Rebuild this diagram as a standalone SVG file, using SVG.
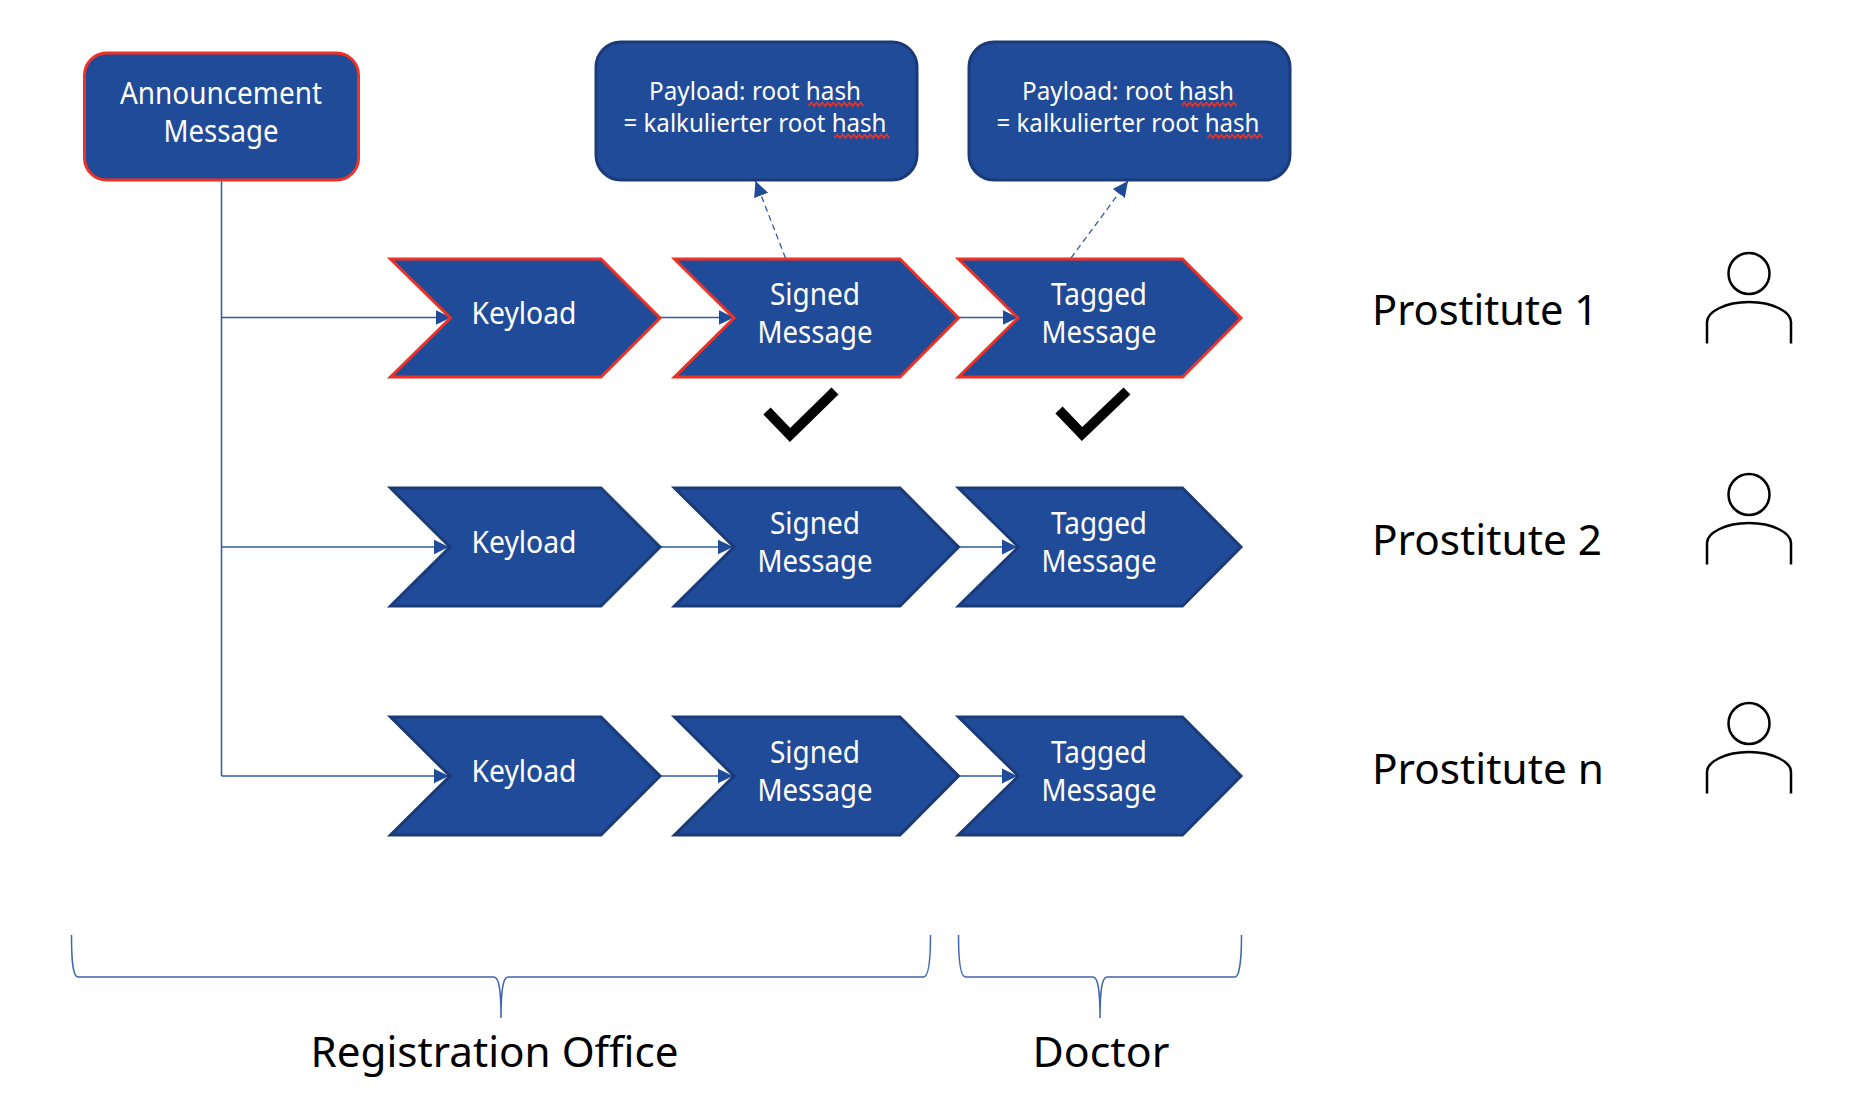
<svg xmlns="http://www.w3.org/2000/svg" width="1870" height="1114" viewBox="0 0 1870 1114">
<style>
text{font-family:"Noto Sans","Open Sans","Liberation Sans",sans-serif}
.w{fill:#fff;text-anchor:middle}
.n{font-size:30px}
.p{font-size:25px}
.k{fill:#000;font-size:42.500px}
.box{fill:#1f4b99;stroke:#1a3a78;stroke-width:3}
.hot{stroke:#ee3124}
.con{fill:none;stroke:#2f5aa8;stroke-width:1.5}
.dash{fill:none;stroke:#2f5aa8;stroke-width:1.3;stroke-dasharray:6 4}
.brace{fill:none;stroke:#3f66ae;stroke-width:1.500}
.sq{fill:none;stroke:#e0352b;stroke-width:1.800}
.chk{fill:none;stroke:#000;stroke-width:10}
.per{fill:none;stroke:#000;stroke-width:2.500}
</style>
<defs>
<marker id="a" markerUnits="userSpaceOnUse" markerWidth="16" markerHeight="16" refX="15.500" refY="8" orient="auto"><path d="M0 0.500L15.500 8L0 15.500Z" fill="#1f4b99"/></marker>
<path id="sq" d="M0 0l2.750-3.500l2.750 3.500l2.750-3.500l2.750 3.500l2.750-3.500l2.750 3.500l2.750-3.500l2.750 3.500l2.750-3.500l2.750 3.500l2.750-3.500l2.750 3.500l2.750-3.500l2.750 3.500l2.750-3.500l2.750 3.500l2.750-3.500l2.750 3.500l2.750-3.500l2.750 3.500"/>
</defs>
<rect width="1870" height="1114" fill="#fff"/>
<g id="connectors">
<path class="con" d="M221.500 180V776"/>
<path class="con" marker-end="url(#a)" d="M221.500 317.500H451"/>
<path class="con" marker-end="url(#a)" d="M660 317.500H734"/>
<path class="con" marker-end="url(#a)" d="M958 317.500H1018"/>
<path class="con" marker-end="url(#a)" d="M221.500 547H449"/>
<path class="con" marker-end="url(#a)" d="M660 547H733"/>
<path class="con" marker-end="url(#a)" d="M958 547H1017.500"/>
<path class="con" marker-end="url(#a)" d="M221.500 776H449"/>
<path class="con" marker-end="url(#a)" d="M660 776H733"/>
<path class="con" marker-end="url(#a)" d="M958 776H1017.500"/>
<path class="dash" marker-end="url(#a)" d="M785.500 258L755.500 181"/>
<path class="dash" marker-end="url(#a)" d="M1071 258L1128 181"/>
</g>
<g id="announcement"><rect class="box hot" x="84.500" y="53" width="274" height="127" rx="22"/>
<text class="w n" x="221" y="104" textLength="202" lengthAdjust="spacingAndGlyphs">Announcement</text><text class="w n" x="221" y="142" textLength="115" lengthAdjust="spacingAndGlyphs">Message</text></g>
<g id="payload1"><rect class="box" x="596" y="42" width="321" height="138" rx="25"/>
<text class="w p" x="755" y="100" textLength="212" lengthAdjust="spacingAndGlyphs">Payload: root hash</text><text class="w p" x="755" y="132" textLength="263" lengthAdjust="spacingAndGlyphs">= kalkulierter root hash</text>
<use href="#sq" class="sq" x="808.500" y="106"/><use href="#sq" class="sq" x="834.500" y="138"/></g>
<g id="payload2"><rect class="box" x="969" y="42" width="321" height="138" rx="25"/>
<text class="w p" x="1128" y="100" textLength="212" lengthAdjust="spacingAndGlyphs">Payload: root hash</text><text class="w p" x="1128" y="132" textLength="263" lengthAdjust="spacingAndGlyphs">= kalkulierter root hash</text>
<use href="#sq" class="sq" x="1181.500" y="106"/><use href="#sq" class="sq" x="1207.500" y="138"/></g>

<g id="r1k"><path class="box hot" d="M390.500 259H601L660 318L601 377H390.500L450.500 318Z"/><text class="w n" x="524" y="323.500" textLength="105" lengthAdjust="spacingAndGlyphs">Keyload</text></g>
<g id="r1s"><path class="box hot" d="M674.500 259H900L958.500 318L900 377H674.500L734 318Z"/><text class="w n" x="815" y="305" textLength="90" lengthAdjust="spacingAndGlyphs">Signed</text><text class="w n" x="815" y="343" textLength="115" lengthAdjust="spacingAndGlyphs">Message</text></g>
<g id="r1t"><path class="box hot" d="M958.500 259H1182.500L1241 318L1182.500 377H958.500L1018 318Z"/><text class="w n" x="1099" y="305" textLength="96" lengthAdjust="spacingAndGlyphs">Tagged</text><text class="w n" x="1099" y="343" textLength="115" lengthAdjust="spacingAndGlyphs">Message</text></g>

<g id="r2k"><path class="box" d="M390.500 488H601L660 547L601 606H390.500L450 547Z"/><text class="w n" x="524" y="552.500" textLength="105" lengthAdjust="spacingAndGlyphs">Keyload</text></g>
<g id="r2s"><path class="box" d="M674.500 488H900L958.500 547L900 606H674.500L734 547Z"/><text class="w n" x="815" y="534" textLength="90" lengthAdjust="spacingAndGlyphs">Signed</text><text class="w n" x="815" y="572" textLength="115" lengthAdjust="spacingAndGlyphs">Message</text></g>
<g id="r2t"><path class="box" d="M958.500 488H1182.500L1241 547L1182.500 606H958.500L1018.500 547Z"/><text class="w n" x="1099" y="534" textLength="96" lengthAdjust="spacingAndGlyphs">Tagged</text><text class="w n" x="1099" y="572" textLength="115" lengthAdjust="spacingAndGlyphs">Message</text></g>

<g id="r3k"><path class="box" d="M390.500 717H601L660 776L601 835H390.500L450 776Z"/><text class="w n" x="524" y="781.500" textLength="105" lengthAdjust="spacingAndGlyphs">Keyload</text></g>
<g id="r3s"><path class="box" d="M674.500 717H900L958.500 776L900 835H674.500L734 776Z"/><text class="w n" x="815" y="763" textLength="90" lengthAdjust="spacingAndGlyphs">Signed</text><text class="w n" x="815" y="801" textLength="115" lengthAdjust="spacingAndGlyphs">Message</text></g>
<g id="r3t"><path class="box" d="M958.500 717H1182.500L1241 776L1182.500 835H958.500L1018.500 776Z"/><text class="w n" x="1099" y="763" textLength="96" lengthAdjust="spacingAndGlyphs">Tagged</text><text class="w n" x="1099" y="801" textLength="115" lengthAdjust="spacingAndGlyphs">Message</text></g>

<g id="check1"><path class="chk" d="M767 411L790 435L835 391"/></g>
<g id="check2"><path class="chk" d="M1059 410L1082 434L1127 391"/></g>

<g id="label1"><text class="k" x="1372" y="324.500" textLength="226" lengthAdjust="spacingAndGlyphs">Prostitute 1</text></g>
<g id="label2"><text class="k" x="1372" y="555" textLength="230" lengthAdjust="spacingAndGlyphs">Prostitute 2</text></g>
<g id="label3"><text class="k" x="1372" y="784" textLength="232" lengthAdjust="spacingAndGlyphs">Prostitute n</text></g>

<g id="person1"><circle class="per" cx="1749" cy="273.500" r="20.500"/><path class="per" d="M1707 343.500V322C1707 312 1725 302 1749 302S1791 312 1791 322V343.500"/></g>
<g id="person2"><circle class="per" cx="1749" cy="494.500" r="20.500"/><path class="per" d="M1707 564.500V543C1707 533 1725 523 1749 523S1791 533 1791 543V564.500"/></g>
<g id="person3"><circle class="per" cx="1749" cy="723.500" r="20.500"/><path class="per" d="M1707 793.500V772C1707 762 1725 752 1749 752S1791 762 1791 772V793.500"/></g>

<g id="brace1"><path class="brace" d="M71.500 935C71.500 962 73 977 78 977H494C499 977 501 990 501 1018C501 990 503 977 508 977H923.500C928 977 930.500 962 930.500 935"/></g>
<g id="brace2"><path class="brace" d="M958.500 935C958.500 962 960.500 977 965.500 977H1093C1098 977 1100 990 1100 1018C1100 990 1102 977 1107 977H1235C1239 977 1241.500 962 1241.500 935"/></g>
<g id="office"><text class="k" x="310.500" y="1067" textLength="368" lengthAdjust="spacingAndGlyphs">Registration Office</text></g>
<g id="doctor"><text class="k" x="1032.500" y="1066.500" textLength="137" lengthAdjust="spacingAndGlyphs">Doctor</text></g>
</svg>
